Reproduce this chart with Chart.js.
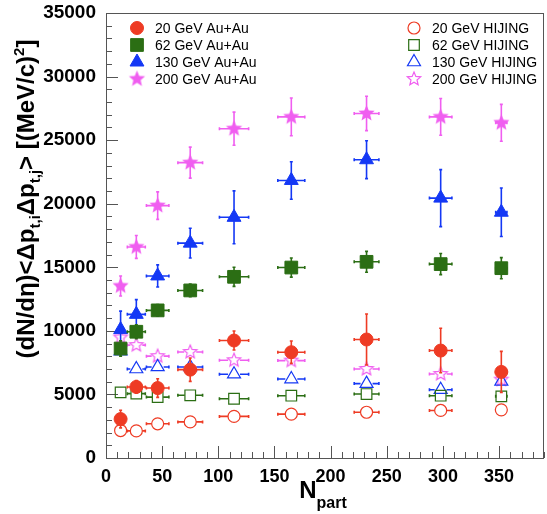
<!DOCTYPE html>
<html>
<head>
<meta charset="utf-8">
<script src="https://cdn.jsdelivr.net/npm/chart.js@4/dist/chart.umd.min.js"></script>
<style>
  html, body { margin: 0; padding: 0; background: #fff; }
</style>
</head>
<body>
<canvas id="c" width="547" height="514"></canvas>
<script>
// Npart centres and their horizontal errors
const npart = [13, 27, 46, 75, 114, 165, 232, 298, 352];
const npartErr = [3, 8, 10, 11, 13, 12, 11, 10, 5];

// Au+Au data
const auau20 = [3060, 5590, 5500, 6950, 9240, 8320, 9320, 8450, 6770];
const auau20Err = [690, 500, 730, 920, 750, 880, 2000, 1750, 1620];
const auau62 = [8610, 9930, 11610, 13180, 14250, 14980, 15430, 15250, 14930];
const auau62Err = [600, 550, 450, 500, 750, 750, 820, 830, 830];
const auau130 = [10100, 11300, 14320, 16900, 18930, 21830, 23460, 20440, 19330];
const auau130Err = [1450, 1160, 870, 1170, 2080, 1475, 1490, 2240, 1910];
const auau200 = [13530, 16600, 19850, 23230, 25900, 26830, 27100, 26830, 26360];
const auau200Err = [790, 900, 1080, 1220, 1300, 1480, 1350, 1450, 1450];

// HIJING
const hij20 = [2160, 2130, 2690, 2840, 3270, 3450, 3600, 3740, 3790];
const hij62 = [5160, 5060, 4790, 4930, 4660, 4900, 5030, 4900, 4850];
const hij130 = [8400, 7000, 7160, 7160, 6590, 6210, 5850, 5370, 6030];
const hij200 = [9480, 8880, 8010, 8340, 7690, 7660, 7000, 6610, 6160];

const labels = ["20 GeV Au+Au", "62 GeV Au+Au", "130 GeV Au+Au", "200 GeV Au+Au",
                "20 GeV HIJING", "62 GeV HIJING", "130 GeV HIJING", "200 GeV HIJING"];

const RED = "#ee3b24", GREEN = "#2b6e14", BLUE = "#1438f5", PINK = "#f05ef0";

// five point star as an image for pointStyle
function makeStar(color, filled, R) {
  const c = document.createElement("canvas");
  const s = Math.ceil(R * 2 + 4);
  c.width = s; c.height = s;
  const g = c.getContext("2d");
  const r = R * 0.45;
  g.beginPath();
  for (let i = 0; i < 10; i++) {
    const rad = (i % 2 === 0) ? R : r;
    const a = -Math.PI / 2 + i * Math.PI / 5;
    const px = s / 2 + rad * Math.cos(a), py = s / 2 + rad * Math.sin(a);
    if (i === 0) g.moveTo(px, py); else g.lineTo(px, py);
  }
  g.closePath();
  if (filled) { g.fillStyle = color; g.fill(); }
  else { g.strokeStyle = color; g.lineWidth = 1.2; g.stroke(); }
  return c;
}
const starFull = makeStar(PINK, true, 8.5);
const starOpen = makeStar(PINK, false, 7);

function pts(ys) { return ys.map((y, i) => ({ x: npart[i], y: y })); }

function set(label, ys, yerr, color, style, radius, filled, gap) {
  return {
    label: label,
    data: pts(ys),
    errY: yerr,
    errX: npartErr,
    gap: gap,
    pointStyle: style,
    pointRadius: radius,
    pointHoverRadius: radius,
    pointBorderWidth: filled ? 1 : 1.2,
    borderColor: color,
    backgroundColor: filled ? color : "rgba(0,0,0,0)",
    showLine: false
  };
}

const datasets = [
  set(labels[0], auau20, auau20Err, RED, "circle", 6.5, true, 0),
  set(labels[1], auau62, auau62Err, GREEN, "rect", 9, true, 0),
  set(labels[2], auau130, auau130Err, BLUE, "triangle", 8, true, 0),
  set(labels[3], auau200, auau200Err, PINK, starFull, 8.5, true, 0),
  set(labels[4], hij20, null, RED, "circle", 6, false, 6),
  set(labels[5], hij62, null, GREEN, "rect", 7.5, false, 5.5),
  set(labels[6], hij130, null, BLUE, "triangle", 7.5, false, 6),
  set(labels[7], hij200, null, PINK, starOpen, 7, false, 6)
];

const errorBars = {
  id: "errorBars",
  beforeDatasetDraw(chart, args) {
    const ds = chart.data.datasets[args.index];
    const xs = chart.scales.x, ys = chart.scales.y;
    const ctx = chart.ctx;
    ctx.save();
    ctx.strokeStyle = ds.borderColor;
    ctx.lineWidth = 1.6;
    ds.data.forEach((p, i) => {
      const px = xs.getPixelForValue(p.x), py = ys.getPixelForValue(p.y);
      const g = ds.gap;
      ctx.beginPath();
      if (ds.errX) {
        const x1 = xs.getPixelForValue(p.x - ds.errX[i]);
        const x2 = xs.getPixelForValue(p.x + ds.errX[i]);
        if (px - x1 > g) { ctx.moveTo(x1, py); ctx.lineTo(px - g, py); ctx.moveTo(x1, py - 1.5); ctx.lineTo(x1, py + 1.5); }
        if (x2 - px > g) { ctx.moveTo(px + g, py); ctx.lineTo(x2, py); ctx.moveTo(x2, py - 1.5); ctx.lineTo(x2, py + 1.5); }
      }
      if (ds.errY) {
        const y1 = ys.getPixelForValue(p.y + ds.errY[i]);
        const y2 = ys.getPixelForValue(p.y - ds.errY[i]);
        ctx.moveTo(px, y1); ctx.lineTo(px, y2);
        ctx.moveTo(px - 1.5, y1); ctx.lineTo(px + 1.5, y1);
        ctx.moveTo(px - 1.5, y2); ctx.lineTo(px + 1.5, y2);
      }
      ctx.stroke();
    });
    ctx.restore();
  }
};

// frame, inward ticks, legend and axis titles
const decor = {
  id: "decor",
  beforeDatasetsDraw(chart) {
    const ctx = chart.ctx, a = chart.chartArea;
    const xs = chart.scales.x, ys = chart.scales.y;
    ctx.save();
    ctx.strokeStyle = "#555";
    ctx.lineWidth = 1;
    ctx.strokeRect(Math.round(a.left) + 0.5, Math.round(a.top) + 0.5,
                   Math.round(a.right - a.left) - 1, Math.round(a.bottom - a.top));
    ctx.beginPath();
    for (let v = 0; v <= 35000; v += 1000) {
      const y = Math.round(ys.getPixelForValue(v)) + 0.5;
      const len = v % 5000 === 0 ? 12 : 6;
      ctx.moveTo(a.left, y); ctx.lineTo(a.left + len, y);
    }
    for (let v = 0; v <= 390; v += 10) {
      const x = Math.round(xs.getPixelForValue(v)) + 0.5;
      const len = v % 50 === 0 ? 12 : 6;
      ctx.moveTo(x, a.bottom); ctx.lineTo(x, a.bottom - len);
    }
    ctx.stroke();
    ctx.restore();
  },
  afterDraw(chart) {
    const ctx = chart.ctx;
    ctx.save();
    // legend
    const rows = [28, 45, 62, 79];
    ctx.font = "14px 'Liberation Sans', Arial, sans-serif";
    ctx.textBaseline = "middle";
    ctx.fillStyle = "#000";
    chart.data.datasets.forEach((ds, i) => {
      const col = i < 4 ? 0 : 1;
      const mx = col === 0 ? 137 : 414;
      const y = rows[i % 4];
      ctx.save();
      ctx.fillStyle = ds.backgroundColor;
      ctx.strokeStyle = ds.borderColor;
      ctx.lineWidth = ds.pointBorderWidth;
      Chart.helpers.drawPoint(ctx, { pointStyle: ds.pointStyle, radius: ds.pointRadius, borderWidth: ds.pointBorderWidth, rotation: 0 }, mx, y);
      ctx.restore();
      ctx.fillStyle = "#000";
      ctx.textAlign = "left";
      ctx.fillText(ds.label, mx + 18, y + 1);
    });

    // y title with sub/superscripts
    const big = 24, small = 15;
    const fBig = "bold " + big + "px 'Liberation Sans', Arial, sans-serif";
    const fSmall = "bold " + small + "px 'Liberation Sans', Arial, sans-serif";
    const parts = [
      ["(dN/dη)<Δp", 0], ["t,i", 1], ["Δp", 0], ["t,j", 1], ["> [(MeV/c)", 0], ["2", 2], ["]", 0]
    ];
    let w = 0;
    parts.forEach(p => { ctx.font = p[1] ? fSmall : fBig; w += ctx.measureText(p[0]).width; });
    ctx.translate(0, 199);
    ctx.rotate(-Math.PI / 2);
    ctx.textAlign = "left";
    ctx.textBaseline = "alphabetic";
    let u = -w / 2;
    const base = 34;
    parts.forEach(p => {
      ctx.font = p[1] ? fSmall : fBig;
      const off = p[1] === 1 ? 6 : (p[1] === 2 ? -10 : 0);
      ctx.fillText(p[0], u, base + off);
      u += ctx.measureText(p[0]).width;
    });
    ctx.setTransform(1, 0, 0, 1, 0, 0);

    // x title
    ctx.font = "bold 24px 'Liberation Sans', Arial, sans-serif";
    const wN = ctx.measureText("N").width;
    ctx.font = "bold 16px 'Liberation Sans', Arial, sans-serif";
    const wP = ctx.measureText("part").width;
    let x0 = 323 - (wN + wP) / 2;
    ctx.font = "bold 24px 'Liberation Sans', Arial, sans-serif";
    ctx.fillText("N", x0, 498);
    ctx.font = "bold 16px 'Liberation Sans', Arial, sans-serif";
    ctx.fillText("part", x0 + wN, 508);
    ctx.restore();
  }
};

new Chart(document.getElementById("c").getContext("2d"), {
  type: "scatter",
  data: { datasets: datasets },
  options: {
    responsive: false,
    animation: false,
    layout: { autoPadding: false, padding: { top: 13, right: 3, left: 0, bottom: 0 } },
    plugins: { legend: { display: false }, tooltip: { enabled: false } },
    scales: {
      x: {
        type: "linear",
        min: 0, max: 390,
        grid: { display: false },
        border: { display: false },
        ticks: {
          stepSize: 50,
          includeBounds: false,
          autoSkip: false,
          maxRotation: 0,
          padding: 0,
          color: "#000",
          font: { family: "'Liberation Sans', Arial, sans-serif", size: 18, weight: "bold" },
          callback: v => String(v)
        },
        afterFit(s) { s.height = 56; s.paddingLeft = 0; s.paddingRight = 0; }
      },
      y: {
        min: 0, max: 35000,
        grid: { display: false },
        border: { display: false },
        ticks: {
          stepSize: 5000,
          includeBounds: false,
          autoSkip: false,
          padding: 2,
          color: "#000",
          font: { family: "'Liberation Sans', Arial, sans-serif", size: 19, weight: "bold" },
          callback: v => String(v)
        },
        afterFit(s) { s.width = 106; s.paddingTop = 0; s.paddingBottom = 0; }
      }
    }
  },
  plugins: [errorBars, decor]
});
</script>
</body>
</html>
